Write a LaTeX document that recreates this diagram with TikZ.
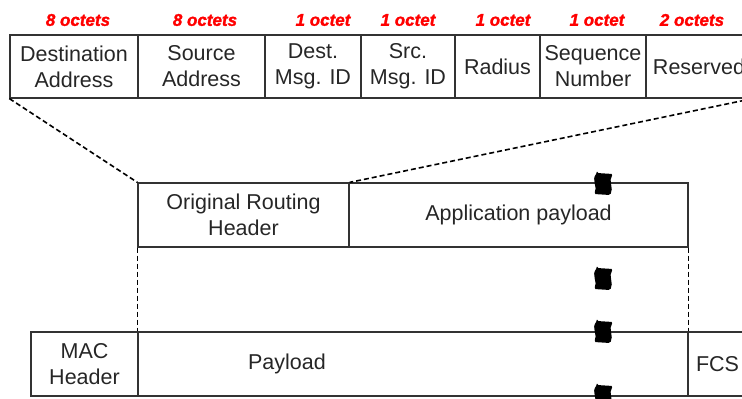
\documentclass[tikz,border=0pt]{standalone}
\usepackage{fontspec}
\setmainfont{Liberation Sans}
\newfontface\sizefont{Liberation Sans Bold Italic}[FakeBold=1.5]
\begin{document}
\begin{tikzpicture}[x=1pt,y=-1pt,
   cell/.style={draw=black!80, line width=1.2pt, inner sep=0pt, align=center,
      font=\fontsize{21.5}{26}\selectfont, text=black!85},
   size/.style={text=red, font=\sizefont\fontsize{17}{20}\selectfont},
   zoomline/.style={draw=black, line width=1.6pt, dash pattern=on 5pt off 3pt},
   guide/.style={draw=black, line width=1pt, dash pattern=on 5pt off 3pt},
   brk/.pic={\fill[black, rounded corners=1.5pt] (-6,-11) -- (10,-10)
      .. controls (5,-3) and (11,4) .. (7,11) -- (-9,10)
      .. controls (-5,3) and (-12,-4) .. cycle;}]

   \useasboundingbox (0,0) rectangle (742,399);

%  field sizes
   \node[size] (s1) at (78,20) {8 octets};
   \node[size] (s2) at (205,20) {8 octets};
   \node[size] (s3) at (323,20) {1 octet};
   \node[size] (s4) at (408,20) {1 octet};
   \node[size] (s5) at (503,20) {1 octet};
   \node[size] (s6) at (597,20) {1 octet};
   \node[size] (s7) at (692,20) {2 octets};

%  routing header fields
   \node[cell, minimum width=128pt, minimum height=63pt] (dst) at (74,66.5) {Destination\\Address};
   \node[cell, minimum width=127pt, minimum height=63pt] (src) at (201.5,66.5) {Source\\Address};
   \node[cell, minimum width=96pt, minimum height=63pt] (dmid) at (313,66.5) {Dest.\\Msg. ID};
   \node[cell, minimum width=94pt, minimum height=63pt] (smid) at (408,66.5) {Src.\\Msg. ID};
   \node[cell, minimum width=85pt, minimum height=63pt] (rad) at (497.5,66.5) {Radius};
   \node[cell, minimum width=106pt, minimum height=63pt] (seq) at (593,66.5) {Sequence\\Number};
   \node[cell, minimum width=106pt, minimum height=63pt] (res) at (699,66.5) {Reserved};

%  application frame
   \node[cell, minimum width=211pt, minimum height=64pt] (orh) at (243.5,215) {Original Routing\\Header};
   \node[cell, minimum width=339pt, minimum height=64pt] (app) at (518.5,215) {Application payload};

%  MAC frame
   \node[cell, minimum width=107pt, minimum height=64pt] (mac) at (84.5,364) {MAC\\Header};
   \node[cell, minimum width=550pt, minimum height=64pt] (pay) at (413,364) {\hspace*{-252pt}Payload};
   \node[cell, minimum width=59pt, minimum height=64pt] (fcs) at (717.5,364) {FCS};

%  zoom lines
   \draw[zoomline] (dst.south west) -- (orh.north west);
   \draw[zoomline] (res.south east) -- (orh.north east);
   \draw[guide] (orh.south west) -- (pay.north west);
   \draw[guide] (app.south east) -- (pay.north east);

%  breaks
   \pic at (603,184) {brk};
   \pic at (603,279) {brk};
   \pic at (603,332) {brk};
   \pic at (603,396) {brk};

\end{tikzpicture}
\end{document}
